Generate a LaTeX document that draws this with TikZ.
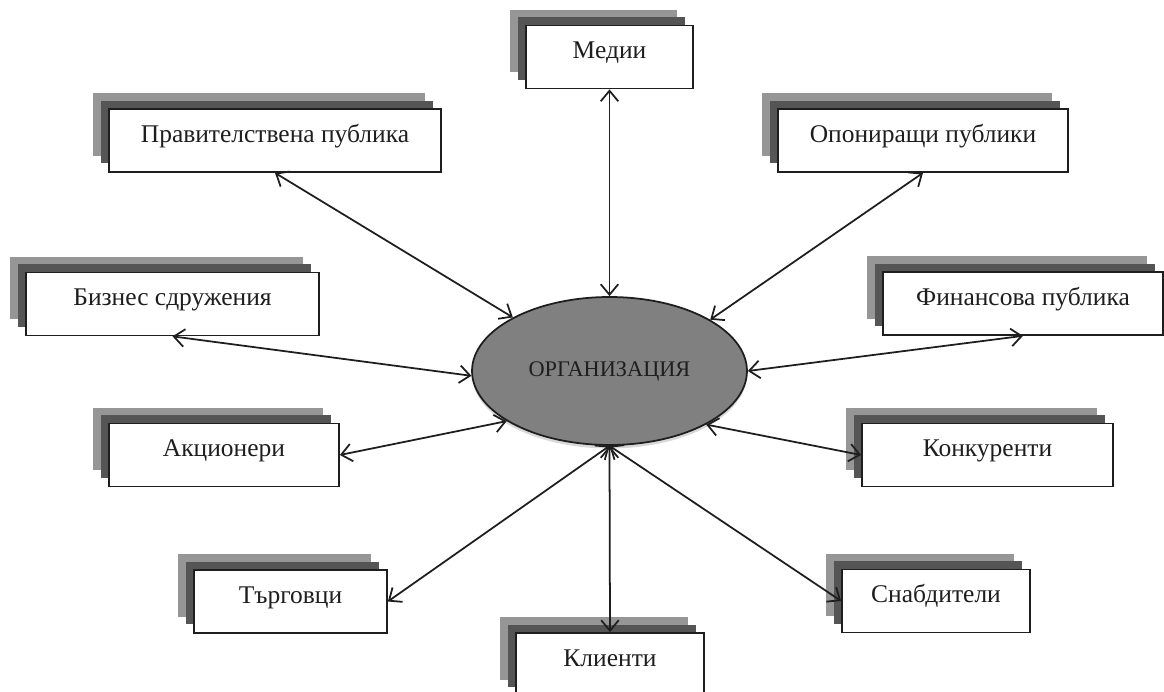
\documentclass[tikz,border=0pt]{standalone}
\usepackage{fontspec}
\setmainfont{Liberation Serif}
\usetikzlibrary{shapes.geometric,shadows,arrows.meta}

\definecolor{lightshade}{RGB}{150,150,150}
\definecolor{darkshade}{RGB}{85,85,85}
\definecolor{orgfill}{RGB}{128,128,128}
\definecolor{inkcolor}{RGB}{30,30,30}

\begin{document}
\begin{tikzpicture}[x=0.02cm, y=-0.02cm,
    >={Straight Barb[length=6pt,width=10pt]},
    publicbox/.style={draw=inkcolor, fill=white, line width=1pt,
      minimum height=1.26cm, inner sep=0pt, text=inkcolor,
      font=\fontsize{14.5}{17}\selectfont, text height=10pt, text depth=8pt,
      copy shadow={shadow xshift=-0.32cm, shadow yshift=0.32cm, fill=lightshade, draw=none},
      copy shadow={shadow xshift=-0.16cm, shadow yshift=0.17cm, fill=darkshade, draw=none}},
    orgnode/.style={ellipse, draw=inkcolor, fill=orgfill, line width=1pt,
      minimum width=5.5cm, minimum height=2.96cm, inner sep=0pt, text=inkcolor,
      font=\fontsize{12.7}{15}\selectfont,
      drop shadow={shadow xshift=0pt, shadow yshift=-2pt, opacity=0.15, fill=black}},
    link/.style={<->, draw=inkcolor, line width=1pt}]

      % Fix the page size
      \useasboundingbox (0,0) rectangle (1164,692);
      \clip (0,0) rectangle (1164,692);

      % Centre
      \node[orgnode] (org) at (609.5,371) {ОРГАНИЗАЦИЯ};

      % Publics round the centre
      \node[publicbox, minimum width=3.34cm] (medii) at (609.5,57) {Медии};
      \node[publicbox, minimum width=6.64cm] (prav) at (275,140.5) {Правителствена публика};
      \node[publicbox, minimum width=5.8cm] (opon) at (923,140.5) {Опониращи публики};
      \node[publicbox, minimum width=5.86cm] (biznes) at (172.5,304) {Бизнес сдружения};
      \node[publicbox, minimum width=5.6cm] (finans) at (1023,303.5) {Финансова публика};
      \node[publicbox, minimum width=4.6cm] (akc) at (224,455) {Акционери};
      \node[publicbox, minimum width=5.02cm] (konk) at (987.5,455) {Конкуренти};
      \node[publicbox, minimum width=3.86cm] (targ) at (290.5,601.5) {Търговци};
      \node[publicbox, minimum width=3.76cm] (snab) at (936,601) {Снабдители};
      \node[publicbox, minimum width=3.76cm] (klient) at (610,664.5) {Клиенти};

      % Two-way links
      \draw[link] (medii.south) -- (org.north);
      \draw[link] (prav.south) -- (org.151);
      \draw[link] (opon.south) -- (org.27);
      \draw[link] (biznes.south) -- (org.182);
      \draw[link] (finans.south) -- (org.east);
      \draw[link] (akc.east) -- (org.206);
      \draw[link] (konk.west) -- (org.331);
      \draw[link] (targ.east) -- (org.south);
      \draw[link] (klient.north) -- (org.south);
      \draw[link] (snab.west) -- (org.south);
    \end{tikzpicture}
\end{document}
